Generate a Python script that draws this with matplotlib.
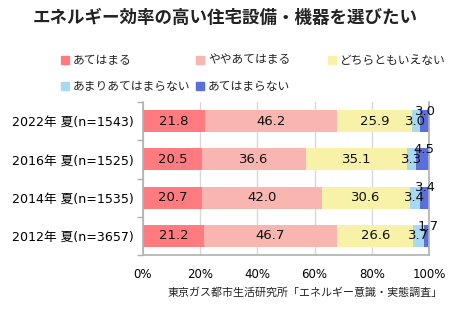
import matplotlib
matplotlib.use("Agg")
import matplotlib.pyplot as plt
from matplotlib.patches import Rectangle
import numpy as np

plt.rcParams['font.family'] = ['DejaVu Sans', 'Noto Sans CJK JP']

title = "エネルギー効率の高い住宅設備・機器を選びたい"
categories = ["2022年 夏(n=1543)", "2016年 夏(n=1525)", "2014年 夏(n=1535)", "2012年 夏(n=3657)"]
series_names = ["あてはまる", "ややあてはまる", "どちらともいえない", "あまりあてはまらない", "あてはまらない"]
s1 = [21.8, 20.5, 20.7, 21.2]
s2 = [46.2, 36.6, 42.0, 46.7]
s3 = [25.9, 35.1, 30.6, 26.6]
s4 = [3.0, 3.3, 3.4, 3.7]
s5 = [3.0, 4.5, 3.4, 1.7]
xticks = [0, 20, 40, 60, 80, 100]
xticklabels = ["0%", "20%", "40%", "60%", "80%", "100%"]
source = "東京ガス都市生活研究所「エネルギー意識・実態調査」"

colors = ["#FF7B80", "#F9B5B0", "#F7F2A8", "#A8D8F2", "#5B6FDB"]
series = [s1, s2, s3, s4, s5]

fig = plt.figure(figsize=(4.5, 3.34), dpi=100)
ax = fig.add_axes([143/450, 1-255/334, 286/450, 153/334])

y = np.arange(len(categories))
left = np.zeros(len(categories))
for i, (vals, c) in enumerate(zip(series, colors)):
    vals = np.array(vals)
    ax.barh(y, vals, left=left, height=0.57, color=c, edgecolor='none', zorder=2)
    for j, (v, l) in enumerate(zip(vals, left)):
        cx = l + v / 2
        if i < 4:
            ax.text(cx, y[j], f"{v:.1f}", ha='center', va='center', fontsize=9.5,
                    color='#111111', zorder=3, family=['DejaVu Sans'])
        else:
            ax.annotate(f"{v:.1f}", (cx, y[j]), xytext=(1.0, 7), textcoords='offset points',
                        ha='center', va='center', fontsize=9.5, color='#111111', zorder=3,
                        family=['DejaVu Sans'])
    left = left + vals

ax.set_xlim(0, 100)
ax.set_ylim(3.5, -0.5)
ax.set_xticks(xticks)
ax.set_xticklabels(xticklabels, fontsize=8.5)
ax.tick_params(axis='x', length=0, pad=9)
ax.set_yticks(y)
ax.set_yticklabels(categories, fontsize=9.1)
ax.tick_params(axis='y', which='major', length=0, pad=7)
ax.set_yticks(np.arange(-0.5, 4.0, 1.0), minor=True)
ax.tick_params(axis='y', which='minor', length=4, color='#B0B0B0', width=1)
ax.grid(axis='x', color='#D8D8D8', linewidth=1, zorder=0)
ax.set_axisbelow(True)
for sp in ['left', 'bottom', 'right']:
    ax.spines[sp].set_color('#B0B0B0')
    ax.spines[sp].set_linewidth(1.2)
ax.spines['top'].set_visible(False)

fig.text(225/450, 1-18/334, title, ha='center', va='center', fontsize=12.6,
         fontweight='bold', family=['Noto Sans CJK JP'], color='#222222')

# legend
leg_pos = [(65, 60), (200, 60), (332, 60), (65, 86), (200, 86)]
for (px, py), name, c in zip(leg_pos, series_names, colors):
    fig.patches.append(Rectangle((px/450 - 4/450, 1 - (py + 4)/334), 8/450, 8/334,
                                 transform=fig.transFigure, color=c, figure=fig))
    fig.text((px + 8)/450, 1 - py/334, name, ha='left', va='center', fontsize=8.5,
             family=['Noto Sans CJK JP'], color='#222222')

fig.text(443/450, 1-293/334, source, ha='right', va='center', fontsize=7.9,
         family=['Noto Sans CJK JP'], color='#222222')

fig.savefig("out.png", dpi=100)
